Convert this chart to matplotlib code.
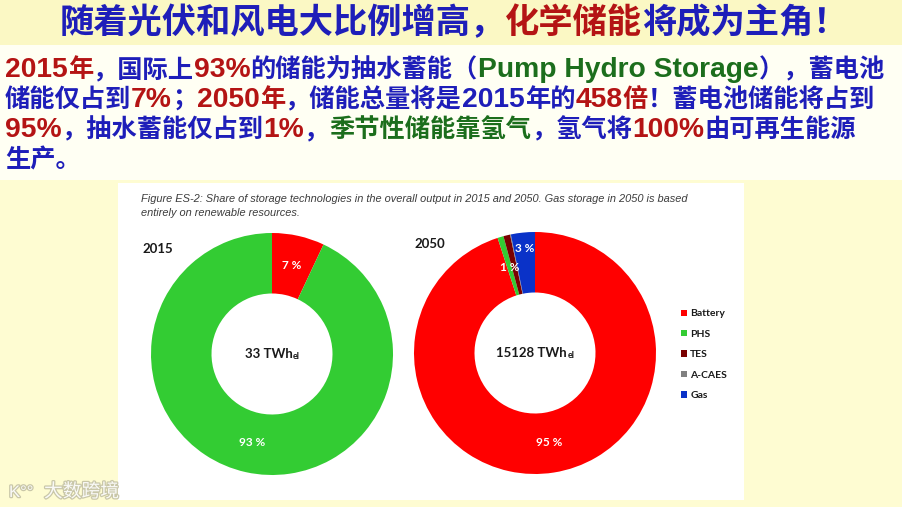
import re
import numpy as np
import matplotlib
matplotlib.use('Agg')
import matplotlib.pyplot as plt
from matplotlib.patches import Rectangle
import matplotlib.patheffects as pe

plt.rcParams['font.family'] = ['Liberation Sans', 'Noto Sans CJK SC', 'DejaVu Sans']

RED = '#b41414'
BLUE = '#1e1eb9'
GREEN = '#1c6e1c'

# ---- text data
title_runs = [('随着光伏和风电大比例增高，', BLUE), ('化学储能', RED), ('将成为主角！', BLUE)]
body_lines = [
    [('2015年', RED), ('，国际上', BLUE), ('93%', RED), ('的储能为抽水蓄能（', BLUE),
     ('Pump Hydro Storage', GREEN), ('），蓄电池', BLUE)],
    [('储能仅占到', BLUE), ('7%', RED), ('；', BLUE), ('2050年', RED),
     ('，储能总量将是2015年的', BLUE), ('458倍', RED), ('！蓄电池储能将占到', BLUE)],
    [('95%', RED), ('，抽水蓄能仅占到', BLUE), ('1%', RED), ('，', BLUE),
     ('季节性储能靠氢气', GREEN), ('，氢气将', BLUE), ('100%', RED), ('由可再生能源', BLUE)],
    [('生产。', BLUE)],
]
caption = ['Figure ES-2: Share of storage technologies in the overall output in 2015 and 2050. Gas storage in 2050 is based',
           'entirely on renewable resources.']

# ---- chart data
years = ['2015', '2050']
totals = ['33', '15128']
techs = ['Battery', 'PHS', 'TES', 'A-CAES', 'Gas']
tech_colors = ['#ff0000', '#33cc33', '#7a0000', '#808080', '#0a32c8']
share_2015 = [7, 93, 0, 0, 0]
share_2050 = [95.0, 0.8, 0.9, 0.1, 3.2]
labels_2015 = ['7 %', '93 %', '', '', '']
labels_2050 = ['95 %', '1 %', '', '', '3 %']

W, H = 903, 507
fig = plt.figure(figsize=(W / 100, H / 100), dpi=100, facecolor='#fefcd2')
bg = fig.add_axes([0, 0, 1, 1])
bg.set_xlim(0, W)
bg.set_ylim(H, 0)
bg.axis('off')
renderer = fig.canvas.get_renderer()

bg.add_patch(Rectangle((0, 0), W, 45, color='#fbf8c4', lw=0))
bg.add_patch(Rectangle((0, 45), W, 135, color='#fffff3', lw=0))
bg.add_patch(Rectangle((118, 183), 626, 317, color='white', lw=0))

LATIN = dict(family=['Liberation Sans'], fontsize=20.3, fontweight='bold')
CJK = dict(family=['Noto Sans CJK SC'], fontsize=18.2, fontweight='bold')


def advance(s, **kw):
    t = bg.text(0, 0, '|' + s + '|', **kw)
    w = t.get_window_extent(renderer).width
    t.remove()
    t = bg.text(0, 0, '||', **kw)
    w2 = t.get_window_extent(renderer).width
    t.remove()
    return w - w2


def draw_runs(x, y, runs, ha='left'):
    # runs: (text, colour, font kwargs)
    ws = [advance(s, **kw) for s, _, kw in runs]
    if ha == 'center':
        x -= sum(ws) / 2
    for (s, c, kw), w in zip(runs, ws):
        bg.text(x, y, s, color=c, ha='left', va='baseline', **kw)
        x += w


def split_script(runs):
    out = []
    for s, c in runs:
        for chunk in re.findall(r'[\x00-\x7f]+|[^\x00-\x7f]+', s):
            out.append((chunk, c, LATIN if chunk.isascii() else CJK))
    return out


title_kw = dict(family=['Noto Sans CJK SC'], fontsize=24.7, fontweight='bold')
draw_runs(454, 33, [(s, c, title_kw) for s, c in title_runs], ha='center')
for i, line in enumerate(body_lines):
    draw_runs(5, 77 + 30 * i, split_script(line))

for i, s in enumerate(caption):
    bg.text(141, 202 + 14.5 * i, s, fontsize=7.9, style='italic', color='#3c3c3c', va='baseline')

# watermark
bg.text(9, 497, 'K°°', fontsize=12, color='white', va='baseline', alpha=0.9,
        path_effects=[pe.withStroke(linewidth=1.8, foreground='#c4c2a4')])
bg.text(44, 497, '大数跨境', fontsize=13.5, color='white', va='baseline', alpha=0.9,
        family=['Noto Sans CJK SC'],
        path_effects=[pe.withStroke(linewidth=1.8, foreground='#c4c2a4')])

# ---- donuts
centers = [(272, 354), (535, 353)]
R = 121
lab_font = dict(family=['Lato', 'DejaVu Sans'], fontweight='bold')
label_r = [[0.75, 0.75, 0, 0, 0], [0.75, 0.74, 0, 0, 0.87]]
year_pos = [(142, 253), (414, 248)]

for k, (vals, labs) in enumerate([(share_2015, labels_2015), (share_2050, labels_2050)]):
    cx, cy = centers[k]
    ax = fig.add_axes([(cx - R) / W, (H - cy - R) / H, 2 * R / W, 2 * R / H])
    wedges, _ = ax.pie(vals, colors=tech_colors, startangle=90, counterclock=False,
                       radius=1, wedgeprops=dict(width=0.5, linewidth=0))
    ax.set_xlim(-1, 1)
    ax.set_ylim(-1, 1)
    ax.set_aspect('auto')
    ax.axis('off')
    for wdg, lab, r in zip(wedges, labs, label_r[k]):
        if not lab:
            continue
        a = np.deg2rad((wdg.theta1 + wdg.theta2) / 2)
        ax.text(r * np.cos(a), r * np.sin(a), lab, ha='center', va='center',
                color='white', fontsize=8.5, **lab_font)
    # year label
    bg.text(year_pos[k][0], year_pos[k][1], years[k], fontsize=9.5, color='#1a1a1a',
            va='baseline', **lab_font)
    # total in centre
    w1 = advance(totals[k] + ' TWh', fontsize=9.5, **lab_font)
    w2 = advance('el', fontsize=6.5, **lab_font)
    x0 = cx - (w1 + w2) / 2
    bg.text(x0, cy + 4, totals[k] + ' TWh', fontsize=9.5, color='#1a1a1a', va='baseline', **lab_font)
    bg.text(x0 + w1 + 0.5, cy + 5, 'el', fontsize=6.5, color='#1a1a1a', va='baseline', **lab_font)
    if k == 1:
        leg_handles = wedges

leg = fig.legend(leg_handles, techs, loc='upper left', bbox_to_anchor=(672 / W, 1 - 300 / H),
                 frameon=False, handlelength=0.55, handleheight=0.55, handletextpad=0.3,
                 labelspacing=1.1, prop=dict(family=['Lato', 'DejaVu Sans'], weight='bold', size=7.5))
for t in leg.get_texts():
    t.set_color('#1a1a1a')

fig.savefig('out.png', dpi=100, facecolor=fig.get_facecolor())
